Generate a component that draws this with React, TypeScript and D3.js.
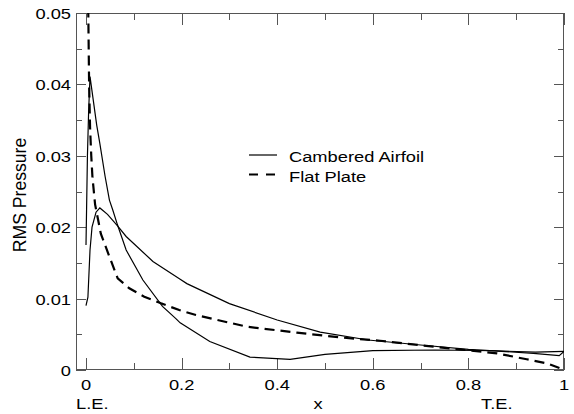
import React from "react";
import * as d3 from "d3";

const upperX = [0, 0.004, 0.0084, 0.0126, 0.021, 0.029, 0.045, 0.066, 0.084, 0.14, 0.197, 0.211, 0.30, 0.40, 0.49, 0.59, 0.70, 0.80, 0.936, 0.99, 1.0];
const upperY = [0.009, 0.0102, 0.0168, 0.020, 0.0221, 0.0227, 0.0218, 0.0202, 0.0187, 0.0152, 0.0127, 0.0121, 0.0093, 0.0070, 0.0053, 0.0042, 0.0035, 0.0029, 0.00233, 0.0020, 0.0026];

const lowerX = [0, 0.003, 0.0056, 0.0084, 0.0224, 0.029, 0.040, 0.049, 0.056, 0.066, 0.084, 0.119, 0.160, 0.188, 0.197, 0.259, 0.343, 0.427, 0.50, 0.60, 0.73, 0.85, 0.94, 1.0];
const lowerY = [0.0175, 0.030, 0.0364, 0.0411, 0.0343, 0.0317, 0.0271, 0.0238, 0.0224, 0.0203, 0.0168, 0.0126, 0.0089, 0.0072, 0.0066, 0.0040, 0.0018, 0.0015, 0.0022, 0.0027, 0.0028, 0.0027, 0.0025, 0.0026];

const flatX = [0.004, 0.0048, 0.0065, 0.0085, 0.011, 0.0135, 0.019, 0.031, 0.0488, 0.0663, 0.0906, 0.122, 0.157, 0.195, 0.230, 0.336, 0.441, 0.531, 0.615, 0.727, 0.86, 0.922, 0.964, 0.992, 1.0];
const flatY = [0.053, 0.050, 0.040, 0.034, 0.030, 0.027, 0.0232, 0.0191, 0.0159, 0.01284, 0.01144, 0.01027, 0.00934, 0.0084, 0.0077, 0.00607, 0.00523, 0.00457, 0.0041, 0.00327, 0.00233, 0.0015, 0.00093, 0.00023, 0.0];

const xTicks = [0, 0.1, 0.2, 0.3, 0.4, 0.5, 0.6, 0.7, 0.8, 0.9, 1.0];
const xTickLabels = ["0", "", "0.2", "", "0.4", "", "0.6", "", "0.8", "", "1"];
const yTicks = [0, 0.005, 0.01, 0.015, 0.02, 0.025, 0.03, 0.035, 0.04, 0.045, 0.05];
const yTickLabels = ["0", "", "0.01", "", "0.02", "", "0.03", "", "0.04", "", "0.05"];

const seriesNames = ["Cambered Airfoil", "Flat Plate"];
const yTitle = "RMS Pressure";
const xTitle = "x";
const leLabel = "L.E.";
const teLabel = "T.E.";

const W = 574;
const H = 414;
const L = 76, R = 564, T = 13, B = 370;
const FONT = "'Liberation Sans', Arial, Helvetica, sans-serif";
const FS = 15.5;
const SX = 1.18;
const FRAME = "#555";

export default function App() {
  const x = d3.scaleLinear().domain([0, 1]).range([86, 564]);
  const y = d3.scaleLinear().domain([0, 0.05]).range([B, T]);
  const line = d3
    .line<[number, number]>()
    .x((d) => x(d[0]))
    .y((d) => y(d[1]));
  const zip = (a: number[], b: number[]) => a.map((v, i) => [v, b[i]] as [number, number]);

  const Txt = (props: { x: number; y: number; anchor?: string; children: string }) => (
    <text
      transform={`translate(${props.x},${props.y}) scale(${SX},1)`}
      textAnchor={props.anchor || "start"}
      fontFamily={FONT}
      fontSize={FS}
      fill="#000"
    >
      {props.children}
    </text>
  );

  return (
    <svg width={W} height={H} style={{ position: "absolute", left: 0, top: 0, background: "#fff" }}>
      <defs>
        <clipPath id="plot">
          <rect x={L} y={T} width={R - L} height={B - T} />
        </clipPath>
      </defs>
      <rect x={0} y={0} width={W} height={H} fill="#fff" />
      {/* frame */}
      <rect x={L + 0.5} y={T + 0.5} width={R - L - 1} height={B - T - 1} fill="none" stroke={FRAME} strokeWidth={1} />
      {/* x ticks */}
      {xTicks.map((t, i) => {
        const major = i % 2 === 0;
        const len = major ? 12 : 7;
        const px = Math.round(x(t)) + 0.5;
        return (
          <g key={"xt" + i}>
            <line x1={px} x2={px} y1={B} y2={B - len} stroke={FRAME} />
            <line x1={px} x2={px} y1={T} y2={T + len} stroke={FRAME} />
            {xTickLabels[i] && <Txt x={x(t)} y={390} anchor="middle">{xTickLabels[i]}</Txt>}
          </g>
        );
      })}
      {/* y ticks */}
      {yTicks.map((t, i) => {
        const major = i % 2 === 0;
        const len = major ? 10 : 6;
        const py = Math.round(y(t)) + 0.5;
        return (
          <g key={"yt" + i}>
            <line x1={L} x2={L + len} y1={py} y2={py} stroke={FRAME} />
            <line x1={R} x2={R - len} y1={py} y2={py} stroke={FRAME} />
            {yTickLabels[i] && <Txt x={71} y={y(t) + 6} anchor="end">{yTickLabels[i]}</Txt>}
          </g>
        );
      })}
      {/* curves */}
      <g clipPath="url(#plot)" fill="none" stroke="#000">
        <path d={line(zip(upperX, upperY)) || ""} strokeWidth={1.2} />
        <path d={line(zip(lowerX, lowerY)) || ""} strokeWidth={1.2} />
        <path d={line(zip(flatX, flatY)) || ""} strokeWidth={2.2} strokeDasharray="10,6" />
      </g>
      {/* legend */}
      <line x1={249} x2={277} y1={155} y2={155} stroke="#000" strokeWidth={1.2} />
      <Txt x={289} y={162}>{seriesNames[0]}</Txt>
      <line x1={249} x2={277} y1={174.5} y2={174.5} stroke="#000" strokeWidth={2.2} strokeDasharray="9,8" />
      <Txt x={289} y={182}>{seriesNames[1]}</Txt>
      {/* axis titles */}
      <Txt x={76} y={409}>{leLabel}</Txt>
      <Txt x={318} y={409} anchor="middle">{xTitle}</Txt>
      <Txt x={481} y={409}>{teLabel}</Txt>
      <text
        transform={`translate(26,195) rotate(-90) scale(1.1,1.12)`}
        textAnchor="middle"
        fontFamily={FONT}
        fontSize={16}
        fill="#000"
      >
        {yTitle}
      </text>
    </svg>
  );
}
